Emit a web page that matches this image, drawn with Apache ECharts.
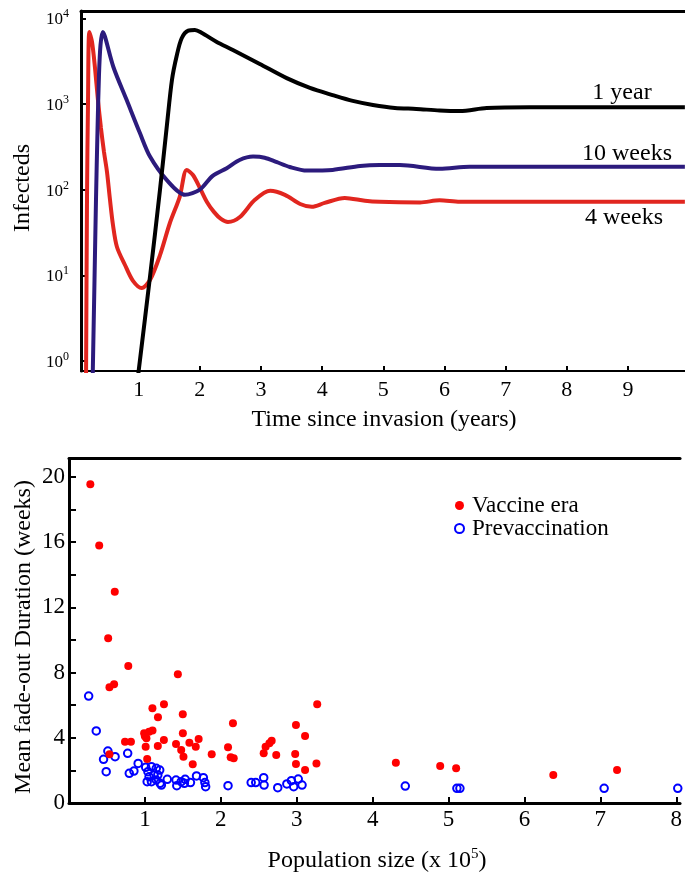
<!DOCTYPE html>
<html>
<head>
<meta charset="utf-8">
<script src="https://cdn.jsdelivr.net/npm/echarts@6/dist/echarts.min.js"></script>
<style>
html,body{margin:0;padding:0;background:#fff;}
#c{width:685px;height:874px;}
</style>
</head>
<body>
<div id="c"></div>
<script>
// ---------- Top panel: infecteds vs time (log scale) ----------
const tRed = [0.139,0.155,0.172,0.193,0.237,0.286,0.334,0.383,0.433,0.482,0.531,0.58,0.645,0.776,0.907,1.049,1.185,1.35,1.51,1.67,1.785,1.887,2.0,2.116,2.23,2.345,2.46,2.655,2.9,3.15,3.39,3.64,3.83,4.04,4.37,4.70,4.94,5.6,5.92,6.25,6.9,9.93];
const red4w = [0.5,76,1110,6900,5300,2630,1110,525,275,161,76,38.7,21.4,13.2,8.6,7.1,8.8,17.3,40.8,82,170,148,105,71.8,55,45.5,42,48,76,97,87,68,63,70,80,74,72,71,75,72,72,72];

const tBlue = [0.245,0.278,0.302,0.327,0.351,0.376,0.412,0.449,0.585,0.804,1.02,1.185,1.457,1.757,2.0,2.21,2.44,2.65,2.87,3.06,3.26,3.47,3.75,4.17,4.62,4.94,5.27,5.92,6.41,6.9,9.93];
const blue10w = [0.5,8.9,76,497,2180,4880,6900,6100,2720,1110,457,243,130,87,100,145,178,222,243,236,209,184,167,170,189,194,194,175,185,185,185];

const tBlack = [0.993,1.185,1.348,1.462,1.544,1.621,1.703,1.81,1.92,2.035,2.27,2.54,2.98,3.42,3.8,4.17,4.5,4.83,5.19,5.54,5.92,6.25,6.69,7.39,9.93];
const black1y = [0.7,9.6,99,569,1905,3630,5850,7170,7300,6730,5330,4270,2930,2000,1540,1270,1085,973,898,875,840,828,898,917,917];

const topXTicks = [1,2,3,4,5,6,7,8,9];
const curveNames = ['4 weeks','10 weeks','1 year'];

// ---------- Bottom panel: fade-out duration vs population ----------
const vacX = [0.281,0.398,0.603,0.516,0.781,0.533,0.594,1.434,1.099,1.251,1.172,1.499,2.16,0.99,1.055,1.1,1.02,1.5,1.25,1.17,1.01,0.738,0.816,1.41,1.586,1.708,1.67,1.478,1.508,0.533,1.03,1.63,1.88,2.095,2.13,2.17,2.565,2.59,2.67,2.64,2.73,2.99,3.11,2.98,2.99,3.11,3.26,3.27,4.306,4.89,5.1,6.38,7.22,1.0];
const vacY = [19.55,15.79,12.96,10.1,8.4,7.1,7.28,7.9,5.81,6.05,5.26,5.44,4.89,4.28,4.37,4.44,3.97,4.28,3.87,3.5,3.45,3.76,3.76,3.62,3.7,3.93,3.45,3.25,2.84,2.99,2.7,2.37,2.99,3.42,2.8,2.74,3.05,3.45,3.82,3.66,2.94,4.79,4.11,3.0,2.39,2.02,2.43,6.05,2.47,2.27,2.13,1.72,2.02,4.1];

const preX = [0.259,0.359,0.512,0.455,0.607,0.49,0.773,0.794,0.855,0.911,1.01,1.04,1.086,1.15,1.195,1.055,1.12,1.17,1.03,1.086,1.15,1.2,1.295,1.41,1.42,1.478,1.53,1.6,1.68,1.77,1.79,1.8,2.095,2.4,2.46,2.565,2.57,2.75,2.87,2.93,2.96,3.02,3.07,4.43,5.11,5.15,7.05,8.02,1.217,1.52];
const preY = [6.56,4.42,3.19,2.68,2.84,1.92,3.05,1.82,1.96,2.43,2.19,1.92,2.23,2.13,2.02,1.61,1.72,1.72,1.31,1.31,1.41,1.21,1.45,1.41,1.06,1.31,1.45,1.25,1.66,1.55,1.25,1.0,1.06,1.25,1.25,1.55,1.1,0.94,1.17,1.37,1.0,1.47,1.1,1.04,0.9,0.9,0.9,0.9,1.1,1.21];

const botXTicks = [1,2,3,4,5,6,7,8];
const botYTicks = [0,2,4,6,8,10,12,14,16,18,20];
const botYLabels = [0,4,8,12,16,20];

const zip = (a, b) => a.map((v, i) => [v, b[i]]);
const FF = '"Liberation Serif", "Times New Roman", serif';

const chart = echarts.init(document.getElementById('c'), null, {renderer: 'canvas'});

const option = {
  animation: false,
  backgroundColor: '#fff',
  grid: [
    {left: 81, top: 11, right: 0, height: 360},
    {left: 69, top: 458.5, right: 0, height: 344.5}
  ],
  xAxis: [
    {
      type: 'value', gridIndex: 0, min: 0.057, max: 9.932,
      axisLine: {onZero: false, lineStyle: {color: '#000', width: 2}},
      axisTick: {inside: true, length: 5, lineStyle: {color: '#000', width: 2}, customValues: topXTicks},
      axisLabel: {customValues: topXTicks, margin: 8, color: '#000', fontSize: 22, fontFamily: FF},
      splitLine: {show: false}
    },
    {
      type: 'value', gridIndex: 0, position: 'top', min: 0.057, max: 9.932,
      axisLine: {onZero: false, lineStyle: {color: '#000', width: 3}},
      axisTick: {show: false}, axisLabel: {show: false}, splitLine: {show: false}
    },
    {
      type: 'value', gridIndex: 1, min: 0, max: 8.05,
      axisLine: {onZero: false, lineStyle: {color: '#000', width: 3}},
      axisTick: {inside: true, length: 6, lineStyle: {color: '#000', width: 2}, customValues: botXTicks},
      axisLabel: {customValues: botXTicks, margin: 5, color: '#000', fontSize: 23, fontFamily: FF},
      splitLine: {show: false}
    },
    {
      type: 'value', gridIndex: 1, position: 'top', min: 0, max: 8.05,
      axisLine: {onZero: false, lineStyle: {color: '#000', width: 3}},
      axisTick: {show: false}, axisLabel: {show: false}, splitLine: {show: false}
    }
  ],
  yAxis: [
    {
      type: 'log', logBase: 10, gridIndex: 0, min: 0.764, max: 12165,
      axisLine: {show: true, onZero: false, lineStyle: {color: '#000', width: 3}},
      axisTick: {show: true, inside: true, length: 5, lineStyle: {color: '#000', width: 2}},
      minorTick: {show: false},
      axisLabel: {
        margin: 12, color: '#000', showMinLabel: false, showMaxLabel: false,
        formatter: function (v) {
          const l = Math.log10(v);
          const e = Math.round(l);
          if (Math.abs(l - e) > 1e-6) return '';
          return '{b|10}{s|' + e + '}';
        },
        rich: {
          b: {fontSize: 17, lineHeight: 20, fontFamily: FF, color: '#000', verticalAlign: 'bottom'},
          s: {fontSize: 12, lineHeight: 12, fontFamily: FF, color: '#000', verticalAlign: 'top'}
        }
      },
      splitLine: {show: false}
    },
    {
      type: 'value', gridIndex: 1, min: 0, max: 21.13,
      axisLine: {show: true, onZero: false, lineStyle: {color: '#000', width: 3}},
      axisTick: {show: true, inside: true, length: 7, lineStyle: {color: '#000', width: 2}, customValues: botYTicks},
      axisLabel: {customValues: botYLabels, margin: 4, color: '#000', fontSize: 23, fontFamily: FF},
      splitLine: {show: false}
    }
  ],
  legend: {
    data: ['Vaccine era', 'Prevaccination'],
    orient: 'vertical', left: 449, top: 489,
    itemWidth: 9, itemHeight: 9, itemGap: 0,
    selectedMode: false,
    textStyle: {fontSize: 23, lineHeight: 20, fontFamily: FF, color: '#000', padding: [0, 0, 0, 3]}
  },
  series: [
    {
      name: curveNames[0], type: 'line', xAxisIndex: 0, yAxisIndex: 0,
      data: zip(tRed, red4w), showSymbol: false, smooth: 0.3, clip: true,
      lineStyle: {color: '#e1261f', width: 4}, itemStyle: {color: '#e1261f'}
    },
    {
      name: curveNames[1], type: 'line', xAxisIndex: 0, yAxisIndex: 0,
      data: zip(tBlue, blue10w), showSymbol: false, smooth: 0.3, clip: true,
      lineStyle: {color: '#2c1b7d', width: 4}, itemStyle: {color: '#2c1b7d'}
    },
    {
      name: curveNames[2], type: 'line', xAxisIndex: 0, yAxisIndex: 0,
      data: zip(tBlack, black1y), showSymbol: false, smooth: 0.3, clip: true,
      lineStyle: {color: '#000', width: 4}, itemStyle: {color: '#000'}
    },
    {
      name: 'Prevaccination', type: 'scatter', xAxisIndex: 2, yAxisIndex: 1,
      data: zip(preX, preY), symbol: 'circle', symbolSize: 7.5, clip: true,
      itemStyle: {color: 'rgba(255,255,255,0)', borderColor: '#0000ff', borderWidth: 2, opacity: 1}
    },
    {
      name: 'Vaccine era', type: 'scatter', xAxisIndex: 2, yAxisIndex: 1,
      data: zip(vacX, vacY), symbol: 'circle', symbolSize: 8, clip: true,
      itemStyle: {color: '#ff0000', opacity: 1}
    }
  ],
  graphic: [
    {type: 'text', x: 23, y: 188, rotation: Math.PI / 2,
     style: {text: 'Infecteds', font: '24px ' + FF, fill: '#000', align: 'center', verticalAlign: 'middle'}},
    {type: 'text', x: 384, y: 420,
     style: {text: 'Time since invasion (years)', font: '24px ' + FF, fill: '#000', align: 'center', verticalAlign: 'middle'}},
    {type: 'text', x: 622, y: 93,
     style: {text: curveNames[2], font: '24px ' + FF, fill: '#000', align: 'center', verticalAlign: 'middle'}},
    {type: 'text', x: 627, y: 154,
     style: {text: curveNames[1], font: '24px ' + FF, fill: '#000', align: 'center', verticalAlign: 'middle'}},
    {type: 'text', x: 624, y: 218,
     style: {text: curveNames[0], font: '24px ' + FF, fill: '#000', align: 'center', verticalAlign: 'middle'}},
    {type: 'text', x: 24, y: 637, rotation: Math.PI / 2,
     style: {text: 'Mean fade-out Duration (weeks)', font: '24px ' + FF, fill: '#000', align: 'center', verticalAlign: 'middle'}},
    {type: 'text', x: 377, y: 860,
     style: {
       text: '{a|Population size (x 10}{s|5}{a|)}', align: 'center', verticalAlign: 'middle',
       rich: {
         a: {fontSize: 24, lineHeight: 26, fontFamily: FF, fill: '#000', color: '#000', verticalAlign: 'bottom'},
         s: {fontSize: 15, lineHeight: 15, fontFamily: FF, fill: '#000', color: '#000', verticalAlign: 'top'}
       }
     }}
  ]
};
chart.setOption(option);
</script>
</body>
</html>
